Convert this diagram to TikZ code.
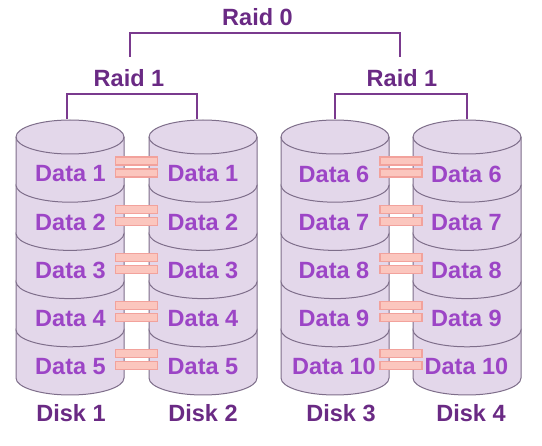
\documentclass[tikz,border=0pt]{standalone}
\usepackage{fontspec}
\setmainfont{Liberation Sans}
\definecolor{cylfill}{HTML}{E3D7EA}
\definecolor{cyledge}{HTML}{7E6E8A}
\definecolor{datacol}{HTML}{9C45C6}
\definecolor{lblcol}{HTML}{6A2A84}
\definecolor{linkcol}{HTML}{7A3A8E}
\definecolor{barfill}{HTML}{FBC6BE}
\definecolor{baredge}{HTML}{F2A29C}
\begin{document}
\begin{tikzpicture}[x=1pt,y=-1pt,
  seg/.style={fill=cylfill, draw=cyledge, line width=1pt},
  rim/.style={draw=cyledge, line width=1pt},
  datatxt/.style={text=datacol, font=\fontsize{23.5}{27}\selectfont\bfseries, inner sep=0pt},
  lbl/.style={text=lblcol, font=\fontsize{23.5}{27}\selectfont\bfseries, inner sep=0pt},
  barbox/.style={fill=barfill, draw=baredge, line width=1.2pt, minimum width=42pt, minimum height=8pt, inner sep=0pt},
  link/.style={draw=linkcol, line width=2.2pt}]
\useasboundingbox[fill=white] (0,0) rectangle (542,446);
% cylinders
\foreach \cx/\dn in {70/1,203/2,335/3,467/4}{
  \foreach \k in {4,3,2,1,0}{
    \pgfmathsetmacro\t{137+48.2*\k}
    \pgfmathsetmacro\b{137+48.2*(\k+1)}
    \path[seg] (\cx-54,\t) -- (\cx-54,\b)
      arc[start angle=180, end angle=0, x radius=54, y radius=17]
      -- (\cx+54,\t)
      arc[start angle=0, end angle=-180, x radius=54, y radius=17] -- cycle;
  }
  \draw[rim] (\cx-54,137) arc[start angle=180, end angle=0, x radius=54, y radius=17];
  \coordinate (top\dn) at (\cx,120);
}
% data labels and mirror bars
\foreach \k/\a/\b in {0/1/6,1/2/7,2/3/8,3/4/9,4/5/10}{
  \pgfmathsetmacro\ty{174+48.2*\k}
  \node[datatxt] (d1n\a) at (70.5,\ty) {Data \a};
  \node[datatxt] (d2n\a) at (203,\ty) {Data \a};
  \node[datatxt] (d3n\b) at (334,\ty) {Data \b};
  \node[datatxt] (d4n\b) at (466.5,\ty) {Data \b};
  \pgfmathsetmacro\ba{161+48.2*\k}
  \pgfmathsetmacro\bb{173+48.2*\k}
  \node[barbox] (bA\a) at (136.5,\ba) {};
  \node[barbox] (bB\a) at (136.5,\bb) {};
  \node[barbox] (bC\a) at (401,\ba) {};
  \node[barbox] (bD\a) at (401,\bb) {};
}
% disk labels
\node[lbl] (disk1) at (71,413) {Disk 1};
\node[lbl] (disk2) at (203,413) {Disk 2};
\node[lbl] (disk3) at (341,413) {Disk 3};
\node[lbl] (disk4) at (471,413) {Disk 4};
% raid labels
\node[lbl] (raid0) at (257.5,17) {Raid 0};
\node[lbl] (raid1L) at (129,78) {Raid 1};
\node[lbl] (raid1R) at (402,78) {Raid 1};
% brackets
\coordinate (r0a) at (130,57);
\coordinate (r0b) at (400,57);
\coordinate (r1a) at (67,119);
\coordinate (r1b) at (197,119);
\coordinate (r1c) at (335,119);
\coordinate (r1d) at (467,119);
\draw[link] (r0a) -- ++(0,-24) -| (r0b);
\draw[link] (r1a) -- ++(0,-25) -| (r1b);
\draw[link] (r1c) -- ++(0,-25) -| (r1d);
\end{tikzpicture}
\end{document}
